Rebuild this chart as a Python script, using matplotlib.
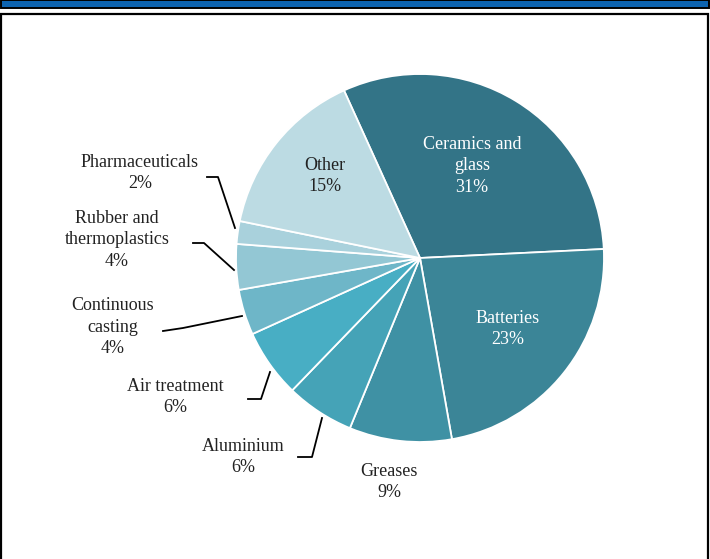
import matplotlib
matplotlib.use("Agg")
import matplotlib.pyplot as plt
from matplotlib.patches import Rectangle

# Uses of the material, share in percent (clockwise from the top)
categories = ["Ceramics and\nglass", "Batteries", "Greases", "Aluminium",
              "Air treatment", "Continuous\ncasting", "Rubber and\nthermoplastics",
              "Pharmaceuticals", "Other"]
shares = [31, 23, 9, 6, 6, 4, 4, 2, 15]
colors = ["#337487", "#3b8597", "#3f91a4", "#45a3b7", "#48aec4",
          "#6eb6c8", "#93c7d4", "#a9d1dc", "#bcdbe3"]

W, H = 710, 559
fig = plt.figure(figsize=(W / 100, H / 100), dpi=100)
ax = fig.add_axes([0, 0, 1, 1])
ax.set_xlim(0, W)
ax.set_ylim(0, H)
ax.set_aspect("equal")
ax.axis("off")

def py(y):
    # pixel row (from top) -> data y
    return H - y

# header bar and page frame
ax.add_patch(Rectangle((0.5, py(8)), W - 2, 8, facecolor="#0c63b0",
                       edgecolor="black", lw=1.4, zorder=1))
ax.add_patch(Rectangle((1, -5), W - 3, py(14) + 5, facecolor="white",
                       edgecolor="black", lw=1.6, zorder=1))

cx, cy, r = 420, py(258), 184
wedges, _ = ax.pie(shares, colors=colors, startangle=114.4, counterclock=False,
                   center=(cx, cy), radius=r, frame=True,
                   wedgeprops=dict(edgecolor="white", linewidth=1.3))
for w in wedges:
    w.set_zorder(3)
ax.set_xlim(0, W)
ax.set_ylim(0, H)
ax.axis("off")

serif = "Liberation Serif"
fs = 13
dark = "#222222"

def label(x, y, text, color=dark):
    ax.text(x, py(y), text, ha="center", va="center", fontsize=fs,
            family=serif, color=color, linespacing=1.36, zorder=5)

label(472, 166, f"{categories[0]}\n{shares[0]}%", "white")
label(508, 329, f"{categories[1]}\n{shares[1]}%", "white")
label(389, 482, f"{categories[2]}\n{shares[2]}%")
label(243, 457, f"{categories[3]}\n{shares[3]}%")
label(175, 397, f"{categories[4]}\n{shares[4]}%")
label(113, 327, f"{categories[5]}\n{shares[5]}%")
label(117, 240, f"{categories[6]}\n{shares[6]}%")
label(140, 173, f"{categories[7]}\n{shares[7]}%")
label(325, 176, f"{categories[8]}\n{shares[8]}%")

# leader lines from outside labels to their slices
leaders = [
    [(207, 177), (218, 177), (235, 228)],
    [(193, 243), (204, 243), (234, 270)],
    [(163, 331), (183, 328), (242, 316)],
    [(248, 399), (261, 399), (270, 372)],
    [(298, 457), (312, 457), (322, 418)],
]
for pts in leaders:
    xs = [p[0] for p in pts]
    ys = [py(p[1]) for p in pts]
    ax.plot(xs, ys, color="black", lw=1.3, zorder=4)

fig.savefig("out.png", dpi=100)
